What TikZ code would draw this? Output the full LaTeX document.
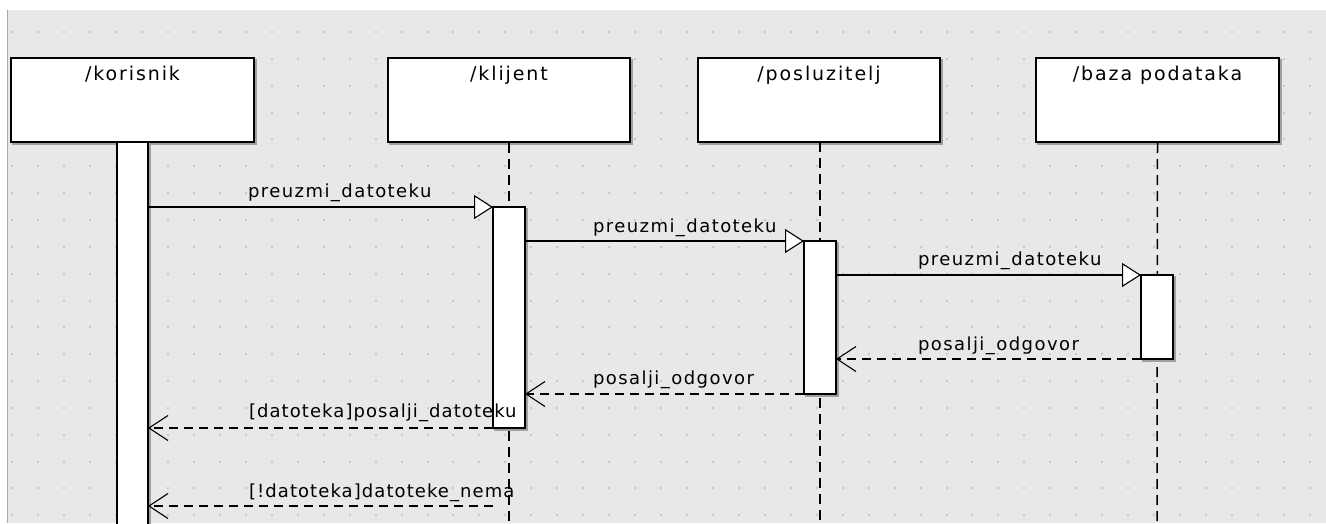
\documentclass[tikz,border=0pt]{standalone}
\usepackage{fontspec}
\setmainfont{DejaVu Sans}[LetterSpace=8]
\newfontfamily\headfont{DejaVu Sans}[LetterSpace=10]
\newfontfamily\guardfont{DejaVu Sans}[LetterSpace=6]
\usetikzlibrary{arrows.meta}
\definecolor{canvas}{HTML}{E8E8E8}
\definecolor{griddot}{HTML}{C8C8C8}
\definecolor{edgeline}{HTML}{A8A8A8}
\definecolor{shade}{HTML}{A0A0A0}

\begin{document}
\begin{tikzpicture}[x=1pt,y=-1pt,
  every node/.style={font=\fontsize{18}{20}\selectfont, inner sep=0pt, outer sep=0pt},
  shaded/.style={preaction={draw=shade, line width=1.6pt, transform canvas={xshift=1.8pt,yshift=-1.8pt}}},
  lifebox/.style={shaded, draw=black, line width=1.6pt, fill=white, rectangle,
    minimum width=243pt, minimum height=84pt, anchor=north west},
  actbar/.style={shaded, draw=black, line width=1.5pt, fill=white, rectangle,
    minimum width=32pt, anchor=north},
  lifeline/.style={line width=1.5pt, dash pattern=on 10pt off 6pt},
  callmsg/.style={line width=1.3pt, -{Triangle[length=19pt, width=24pt, fill=white, line width=1.1pt]}},
  replymsg/.style={line width=1.3pt, dash pattern=on 9pt off 6pt,
    -{Straight Barb[length=19pt, width=25pt, line width=1.1pt]}},
  msglabel/.style={anchor=base west},
  guardlabel/.style={anchor=base west, font=\guardfont\fontsize{18}{20}\selectfont},
  title/.style={anchor=base, font=\headfont\fontsize{19}{21}\selectfont}]

\useasboundingbox (0,0) rectangle (1326,523);
\clip (0,0) rectangle (1326,523);

% canvas with its dotted grid
\fill[white] (0,0) rectangle (1326,523);
\fill[canvas] (7,10) rectangle (1326,523);
\draw[edgeline, line width=1.5pt] (7.5,10) -- (7.5,523);
\foreach \i in {0,...,50}
  \foreach \j in {0,...,18}
    \fill[griddot] ({12.3+25.95*\i-1},{32+26.85*\j-1}) rectangle ++(2,2);

% participant heads
\node[lifebox] (kor) at (11,58) {};
\node[lifebox, minimum width=242pt] (kli) at (388,58) {};
\node[lifebox, minimum width=242pt] (pos) at (698,58) {};
\node[lifebox] (baz) at (1036,58) {};

\node[title] (korT) at ([yshift=-22pt]kor.north) {/korisnik};
\node[title] (kliT) at ([yshift=-22pt]kli.north) {/klijent};
\node[title] (posT) at ([yshift=-22pt]pos.north) {/posluzitelj};
\node[title] (bazT) at ([yshift=-22pt]baz.north) {/baza podataka};

% lifelines
\coordinate (kliEnd) at (509,530);
\coordinate (posEnd) at (820,530);
\coordinate (bazEnd) at (1157,530);
\draw[lifeline] (kli.south) ++(0,1) -- (kliEnd);
\draw[lifeline] (820,142) -- (posEnd);
\draw[lifeline] (baz.south) ++(0,1) -- (bazEnd);

% activation bars
\node[actbar, minimum width=31pt, minimum height=395pt] (korA) at (132.5,142) {};
\node[actbar, minimum height=221pt] (kliA) at (509,207) {};
\node[actbar, minimum height=153pt] (posA) at (820,241) {};
\node[actbar, minimum height=84pt] (bazA) at (1157,275) {};

% calls
\draw[callmsg] (korA.east |- kliA.north west) -- (kliA.north west);
\draw[callmsg] (kliA.east |- posA.north west) -- (posA.north west);
\draw[callmsg] (posA.east |- bazA.north west) -- (bazA.north west);

% replies
\coordinate (noFile) at (493,506);
\draw[replymsg] (bazA.south west) -- (posA.east |- bazA.south west);
\draw[replymsg] (posA.south west) -- (kliA.east |- posA.south west);
\draw[replymsg] (kliA.south west) -- (korA.east |- kliA.south west);
\draw[replymsg] (noFile) -- (korA.east |- noFile);

% message labels
\node[msglabel] (l1) at (248,197.5) {preuzmi\_datoteku};
\node[msglabel] (l2) at (593,232) {preuzmi\_datoteku};
\node[msglabel] (l3) at (918,265.5) {preuzmi\_datoteku};
\node[msglabel] (l4) at (918,350) {posalji\_odgovor};
\node[msglabel] (l5) at (593,384) {posalji\_odgovor};
\node[guardlabel] (l6) at (249,417) {[datoteka]posalji\_datoteku};
\node[guardlabel] (l7) at (249,497) {[!datoteka]datoteke\_nema};
\end{tikzpicture}
\end{document}
